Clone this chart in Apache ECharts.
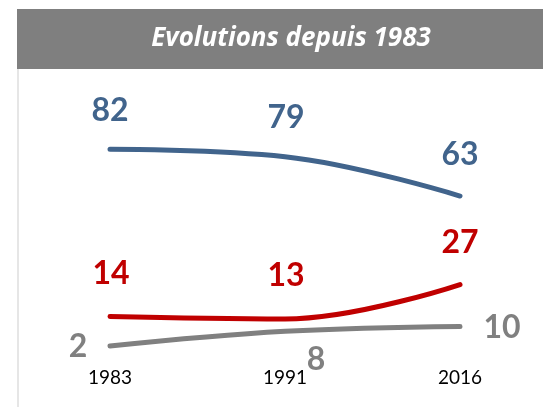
<!DOCTYPE html>
<html>
<head>
<meta charset="utf-8">
<script src="https://cdn.jsdelivr.net/npm/echarts@6/dist/echarts.min.js"></script>
<style>
  html, body { margin: 0; padding: 0; background: #fff; }
  #chart { width: 543px; height: 407px; }
</style>
</head>
<body>
<div id="chart"></div>
<script>
const years = ['1983', '1991', '2016'];
const blueValues = [82, 79, 63];
const redValues = [14, 13, 27];
const greyValues = [2, 8, 10];

const FONT = 'Lato';

// label offsets from each point (px), per series
const blueOffsets = [[0, -39], [1, -39], [0, -41]];
const redOffsets = [[1, -43], [1, -43], [0, -42]];
const greyOffsets = [[-32, 1], [31, 28], [42, 1]];

function mkData(values, offsets) {
  return values.map((v, i) => ({ value: v, label: { offset: offsets[i] } }));
}

function mkSeries(name, values, offsets, color) {
  return {
    name,
    type: 'line',
    smooth: 0.4,
    symbol: 'circle',
    symbolSize: 1,
    itemStyle: { color: 'rgba(0,0,0,0)' },
    lineStyle: { color, width: 5, cap: 'round' },
    label: {
      show: true,
      position: 'inside',
      color,
      fontFamily: FONT,
      fontWeight: 'bold',
      fontSize: 32
    },
    emphasis: { disabled: true },
    data: mkData(values, offsets)
  };
}

const chart = echarts.init(document.getElementById('chart'));
chart.setOption({
  animation: false,
  graphic: [
    { type: 'rect', shape: { x: 17, y: 9, width: 526, height: 60 }, style: { fill: '#7f7f7f' } },
    { type: 'rect', shape: { x: 17, y: 69, width: 2, height: 338 }, style: { fill: '#e6e6e6' } }
  ],
  title: {
    text: 'Evolutions depuis 1983',
    left: 286,
    top: 21,
    textAlign: 'center',
    textStyle: {
      color: '#fff',
      fontFamily: 'Open Sans',
      fontStyle: 'italic',
      fontWeight: 'bold',
      fontSize: 26
    }
  },
  grid: { left: 110, right: 83, top: 105, bottom: 56 },
  xAxis: {
    type: 'category',
    data: years,
    boundaryGap: false,
    axisLine: { show: false },
    axisTick: { show: false },
    axisLabel: { color: '#000', fontFamily: FONT, fontSize: 19, margin: 17 }
  },
  yAxis: {
    type: 'value',
    min: 0,
    max: 100,
    show: false
  },
  series: [
    mkSeries('blue', blueValues, blueOffsets, '#41648c'),
    mkSeries('red', redValues, redOffsets, '#c00000'),
    mkSeries('grey', greyValues, greyOffsets, '#808080')
  ]
});
</script>
</body>
</html>
